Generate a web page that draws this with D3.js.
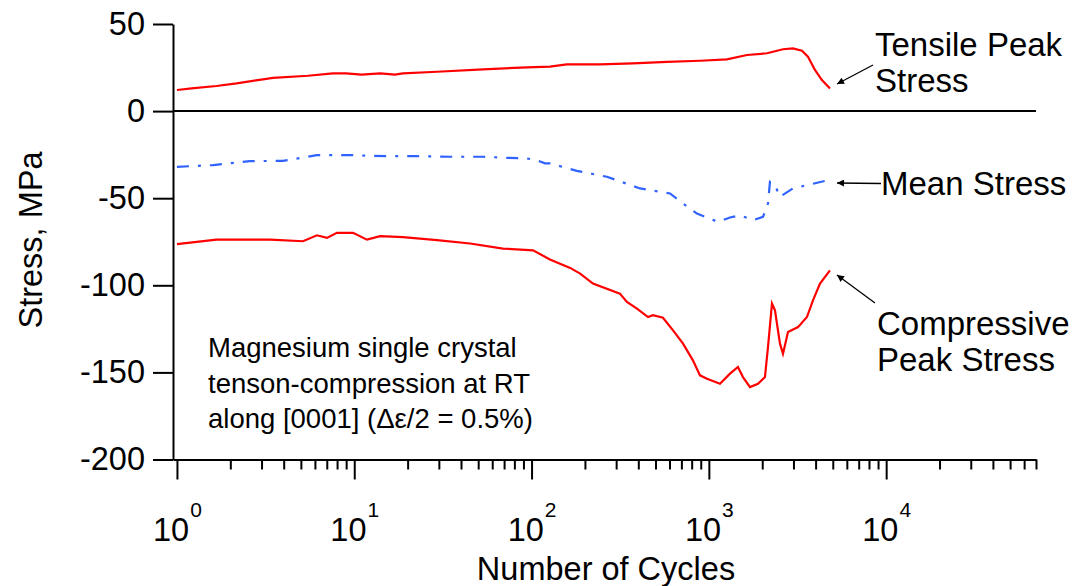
<!DOCTYPE html>
<html>
<head>
<meta charset="utf-8">
<script src="https://cdn.jsdelivr.net/npm/d3@7"></script>
<style>
  html, body { margin: 0; padding: 0; background: #fff; }
  svg { display: block; }
</style>
</head>
<body>
<svg id="chart" width="1077" height="586"></svg>
<script>
// ---- data ----
const tensileCycles = [1, 1.21, 1.67, 2.17, 2.86, 3.48, 5.48, 7.58, 9.0, 11, 14, 17, 18.8, 29.3, 53.2, 94.2, 127, 158, 243, 373, 580, 891, 1265, 1640, 2128, 2619, 2981, 3350, 3622, 3966, 4342, 4819];
const tensileStress = [12.1, 13, 14.4, 15.9, 17.8, 19.1, 20.3, 21.7, 21.7, 20.9, 21.7, 20.9, 21.7, 22.6, 24, 25.1, 25.5, 26.8, 26.8, 27.4, 28.3, 28.9, 29.7, 32.2, 33.2, 35.5, 36, 34.7, 31.2, 23.6, 17.8, 13];

const meanCycles = [1, 1.6, 2.58, 3.96, 6.16, 9.7, 15.3, 22.6, 34.6, 53.2, 72.7, 94.2, 107, 119, 127, 180, 266, 409, 604, 715, 857, 1125, 1316, 1497, 1774, 2020, 2155, 2211, 2360, 2518, 2981, 3575, 4699];
const meanStress = [-32, -31, -28.7, -28.6, -25.3, -25.3, -25.9, -25.9, -26.2, -26.2, -26.8, -27.2, -28.2, -30, -30, -34.3, -37.7, -44.4, -47.3, -53, -58.8, -63.6, -61.1, -59.8, -62.6, -60.7, -53, -40.6, -42.5, -49.2, -44.4, -42.5, -39.7];

const compCycles = [1, 1.67, 3.35, 5.14, 6.16, 7.02, 7.98, 9.84, 11.8, 14.0, 18.8, 29.3, 45.0, 69.0, 102, 127, 165, 188, 222, 315, 345, 393, 454, 484, 551, 628, 715, 813, 891, 976, 1155, 1316, 1459, 1557, 1706, 1892, 2072, 2155, 2270, 2360, 2518, 2619, 2795, 3183, 3575, 3866, 4236, 4819];
const compStress = [-76.4, -73.8, -73.8, -74.7, -71.3, -72.8, -69.9, -69.9, -73.8, -71.8, -72.4, -74.1, -76, -78.9, -79.9, -85.2, -90, -93.3, -99, -104.8, -109.6, -113.4, -118.2, -117.2, -118.6, -125.9, -133.5, -143.1, -151.7, -153.6, -156.5, -150.7, -146.9, -152.7, -158.4, -156.5, -152.7, -135.5, -110.5, -114.4, -133.5, -139.3, -126.8, -124, -118.2, -108.6, -99, -91.4];

const yTicks = [50, 0, -50, -100, -150, -200];
const xMajorTicks = [1, 10, 100, 1000, 10000];
const xDomain = [0.95, 70000];
const yDomain = [-200, 50];

const annotationLines = ["Magnesium single crystal", "tenson-compression at RT", "along [0001] (\u0394\u03b5/2 = 0.5%)"];
const xTitle = "Number of Cycles";
const yTitle = "Stress, MPa";

// ---- drawing ----
const FONT = "'Liberation Sans', Arial, Helvetica, sans-serif";
const svg = d3.select("#chart");

const x = d3.scaleLog().domain(xDomain).range([173, 1036]);
const y = d3.scaleLinear().domain(yDomain).range([459.5, 24]);

// minor ticks
const xMinorTicks = [];
for (let p = 0; p <= 4; p++) {
  for (let m = 2; m <= 9; m++) {
    const v = m * Math.pow(10, p);
    if (v <= xDomain[1]) xMinorTicks.push(v);
  }
}

// zero line
svg.append("line")
  .attr("x1", x(xDomain[0])).attr("x2", x(xDomain[1]))
  .attr("y1", y(0)).attr("y2", y(0))
  .attr("stroke", "#000").attr("stroke-width", 2);

// x axis minor
const gxMinor = svg.append("g")
  .attr("transform", `translate(0,${y(-200)})`)
  .call(d3.axisBottom(x).tickValues(xMinorTicks).tickSize(10).tickSizeOuter(0).tickFormat(() => ""));
gxMinor.select(".domain").remove();

// x axis major
const gx = svg.append("g")
  .attr("transform", `translate(0,${y(-200)})`)
  .call(d3.axisBottom(x).tickValues(xMajorTicks).tickSize(20).tickSizeOuter(0).tickFormat(() => ""));
gx.selectAll(".tick text").each(function(d) {
  const t = d3.select(this);
  t.text(null).attr("y", 81).attr("dy", null).attr("text-anchor", "middle");
  t.append("tspan").text("10");
  t.append("tspan").attr("dy", -24).attr("dx", 1).attr("font-size", 21).text(Math.round(Math.log10(d)));
});

// y axis
const gy = svg.append("g")
  .attr("transform", `translate(${x(xDomain[0])},0)`)
  .call(d3.axisLeft(y).tickValues(yTicks).tickSize(20).tickPadding(8).tickSizeOuter(0)
    .tickFormat(d => String(d)));

[gx, gxMinor, gy].forEach(g => {
  g.attr("font-family", FONT).attr("font-size", 32.5).attr("color", "#000");
  g.selectAll("line, path").attr("stroke-width", 2);
});

// series
const line = d3.line().x(d => x(d[0])).y(d => y(d[1]));
const zip = (a, b) => a.map((v, i) => [v, b[i]]);

svg.append("path").datum(zip(tensileCycles, tensileStress))
  .attr("d", line).attr("fill", "none").attr("stroke", "#ff0000").attr("stroke-width", 2.2);
svg.append("path").datum(zip(compCycles, compStress))
  .attr("d", line).attr("fill", "none").attr("stroke", "#ff0000").attr("stroke-width", 2.2);
svg.append("path").datum(zip(meanCycles, meanStress))
  .attr("d", line).attr("fill", "none").attr("stroke", "#2f62ff").attr("stroke-width", 2.2)
  .attr("stroke-dasharray", "12,9,3,9");

// axis titles
svg.append("text")
  .attr("x", 606).attr("y", 580)
  .attr("text-anchor", "middle").attr("font-family", FONT).attr("font-size", 32.5)
  .text(xTitle);
svg.append("text")
  .attr("transform", "translate(42,240) rotate(-90)")
  .attr("text-anchor", "middle").attr("font-family", FONT).attr("font-size", 32.5)
  .text(yTitle);

// annotation block
const ann = svg.append("text").attr("font-family", FONT).attr("font-size", 27.5);
annotationLines.forEach((s, i) => {
  ann.append("tspan").attr("x", 208).attr("y", 357 + i * 35.5).text(s);
});

// series labels
const labels = [
  { lines: ["Tensile Peak", "Stress"], x: 875, y: 56 },
  { lines: ["Mean Stress"], x: 881, y: 195 },
  { lines: ["Compressive", "Peak Stress"], x: 877, y: 335 }
];
labels.forEach(l => {
  const t = svg.append("text").attr("font-family", FONT).attr("font-size", 33);
  l.lines.forEach((s, i) => t.append("tspan").attr("x", l.x).attr("y", l.y + i * 35.5).text(s));
});

// arrows
const defs = svg.append("defs");
defs.append("marker").attr("id", "ah")
  .attr("viewBox", "0 0 10 10").attr("refX", 10).attr("refY", 5)
  .attr("markerWidth", 11).attr("markerHeight", 7).attr("markerUnits", "userSpaceOnUse")
  .attr("orient", "auto")
  .append("path").attr("d", "M0,0 L10,5 L0,10 z").attr("fill", "#000");

const arrows = [
  { from: [873, 65], to: [837, 84] },
  { from: [881, 183.5], to: [837, 183] },
  { from: [875, 303], to: [837, 275] }
];
arrows.forEach(a => {
  svg.append("line")
    .attr("x1", a.from[0]).attr("y1", a.from[1])
    .attr("x2", a.to[0]).attr("y2", a.to[1])
    .attr("stroke", "#000").attr("stroke-width", 1.3)
    .attr("marker-end", "url(#ah)");
});
</script>
</body>
</html>
